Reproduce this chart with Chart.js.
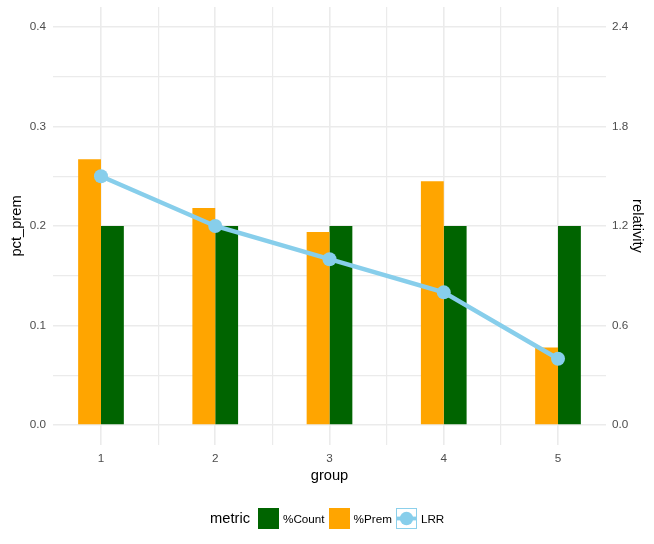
<!DOCTYPE html>
<html>
<head>
<meta charset="utf-8">
<script src="https://cdn.jsdelivr.net/npm/chart.js@4/dist/chart.umd.min.js"></script>
<style>
  html, body { margin: 0; padding: 0; background: #fff; }
  #wrap { position: relative; width: 654px; height: 544px; font-family: "Liberation Sans", Arial, sans-serif; }
  #legend { position: absolute; left: 210px; top: 507px; height: 22px; display: flex; align-items: center; }
  #legend .title { font-size: 14.7px; color: #000; margin-right: 8px; }
  #legend .key { width: 21px; height: 21px; margin-right: 4px; }
  #legend .lab { font-size: 11.7px; color: #000; margin-right: 4px; }
</style>
</head>
<body>
<div id="wrap">
  <canvas id="c"></canvas>
  <div id="legend">
    <span class="title">metric</span>
    <span class="key" style="background:#006400"></span><span class="lab">%Count</span>
    <span class="key" style="background:#FFA500"></span><span class="lab">%Prem</span>
    <svg class="key" width="22" height="22" viewBox="0 0 22 22">
      <rect x="0.5" y="0.5" width="21" height="21" fill="none" stroke="#87CEEB" stroke-width="1"/>
      <line x1="1" y1="11" x2="21" y2="11" stroke="#87CEEB" stroke-width="4"/>
      <circle cx="11" cy="11" r="7" fill="#87CEEB"/>
    </svg><span class="lab">LRR</span>
  </div>
</div>
<script>
const groups = [1, 2, 3, 4, 5];
const pctCount = [0.2, 0.2, 0.2, 0.2, 0.2];
const pctPrem = [0.267, 0.218, 0.194, 0.245, 0.078];
const lrr = [1.5, 1.2, 1.0, 0.8, 0.4];

const xMajor = [1, 2, 3, 4, 5];
const xMinor = [1.5, 2.5, 3.5, 4.5];
const leftMajor = [0, 0.1, 0.2, 0.3, 0.4];
const leftMinor = [0.05, 0.15, 0.25, 0.35];
const rightTicks = [0, 0.6, 1.2, 1.8, 2.4];

const C = { count: "#006400", prem: "#FFA500", lrr: "#87CEEB", grid: "#EBEBEB", tick: "#4D4D4D", ink: "#000" };
const FONT = "'Liberation Sans', Arial, sans-serif";

const pts = (ys) => groups.map((g, i) => ({ x: g, y: ys[i] }));
const setTicks = (vals) => (s) => { s.ticks = vals.slice().sort((a, b) => a - b).map((v) => ({ value: v })); };
const isMajor = (list, v) => list.some((m) => Math.abs(m - v) < 1e-9);
// fixed axis width; drop the half-label padding chart.js adds at the ends
const fitY = (w) => (s) => { s.width = w; s.paddingTop = 0; s.paddingBottom = 0; };

// bar width is worked out from the smallest tick gap (0.5 units, minor grid included)
const barOpts = { borderWidth: 0, yAxisID: "y", order: 1, categoryPercentage: 0.8, barPercentage: 1 };

new Chart(document.getElementById("c"), {
  data: {
    datasets: [
      { type: "bar", label: "%Prem", data: pts(pctPrem), backgroundColor: C.prem, ...barOpts },
      { type: "bar", label: "%Count", data: pts(pctCount), backgroundColor: C.count, ...barOpts },
      { type: "line", label: "LRR", data: pts(lrr), yAxisID: "y2", order: 0,
        borderColor: C.lrr, borderWidth: 4.5, pointRadius: 7, pointHoverRadius: 7,
        pointBackgroundColor: C.lrr, pointBorderWidth: 0, tension: 0 },
    ],
  },
  options: {
    responsive: true,
    maintainAspectRatio: false,
    animation: false,
    layout: { padding: { top: 7, bottom: 54, left: 0, right: 0 } },
    plugins: { legend: { display: false }, tooltip: { enabled: false } },
    scales: {
      x: {
        type: "linear", min: 0.58, max: 5.42, offset: false,
        afterBuildTicks: setTicks(xMajor.concat(xMinor)),
        afterFit: (s) => { s.height = 45; },
        border: { display: false },
        grid: { color: C.grid, drawTicks: false, offset: false,
          lineWidth: (ctx) => (ctx.tick && isMajor(xMajor, ctx.tick.value) ? 1.6 : 1.2) },
        ticks: { color: C.tick, padding: 7, font: { family: FONT, size: 11.7 }, maxRotation: 0, autoSkip: false,
          callback: (v) => (isMajor(xMajor, v) ? String(v) : "") },
        title: { display: true, text: "group", color: C.ink, font: { family: FONT, size: 14.7 }, padding: { top: 0, bottom: 5 } },
      },
      y: {
        position: "left", min: -0.02, max: 0.42,
        afterBuildTicks: setTicks(leftMajor.concat(leftMinor)),
        afterFit: fitY(53),
        border: { display: false },
        grid: { color: C.grid, drawTicks: false,
          lineWidth: (ctx) => (ctx.tick && isMajor(leftMajor, ctx.tick.value) ? 1.6 : 1.2) },
        ticks: { color: C.tick, padding: 7, font: { family: FONT, size: 11.7 }, autoSkip: false,
          callback: (v) => (isMajor(leftMajor, v) ? v.toFixed(1) : "") },
        title: { display: true, text: "pct_prem", color: C.ink, font: { family: FONT, size: 14.7 }, padding: { top: 8, bottom: 0 } },
      },
      y2: {
        position: "right", min: -0.12, max: 2.52,
        afterBuildTicks: setTicks(rightTicks),
        afterFit: fitY(48),
        border: { display: false },
        grid: { display: false, drawTicks: false },
        ticks: { color: C.tick, padding: 6, font: { family: FONT, size: 11.7 }, autoSkip: false,
          callback: (v) => v.toFixed(1) },
        title: { display: true, text: "relativity", color: C.ink, font: { family: FONT, size: 14.7 }, padding: { top: 8, bottom: 0 } },
      },
    },
  },
});
</script>
</body>
</html>
